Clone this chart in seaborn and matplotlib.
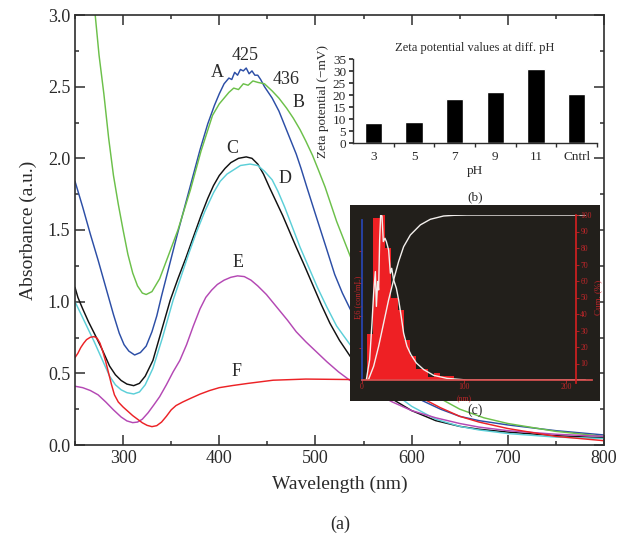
import numpy as np
import pandas as pd
import matplotlib
matplotlib.use("Agg")
import matplotlib.pyplot as plt
import seaborn as sns
from matplotlib.patches import Rectangle

# ---------------- data: main UV-vis spectra ----------------
wl_A = [250, 258, 266, 274, 282, 290, 296, 301, 306, 312, 318, 324, 330, 335, 340, 348, 356, 364, 372, 380, 388,
        395, 400, 405, 410, 413, 416, 419, 422, 425, 428, 431, 434, 437, 440, 443, 447, 455, 462, 468, 474, 480,
        485, 491, 500, 511, 520, 528, 536, 545, 555, 565, 575, 590, 611, 630, 650, 670, 700, 750, 800]
abs_A = [1.84, 1.66, 1.47, 1.29, 1.10, 0.91, 0.78, 0.70, 0.655, 0.628, 0.645, 0.69, 0.79, 0.90, 1.04, 1.25, 1.46,
         1.66, 1.86, 2.06, 2.24, 2.37, 2.45, 2.52, 2.56, 2.55, 2.60, 2.58, 2.62, 2.61, 2.63, 2.59, 2.61, 2.58,
         2.58, 2.55, 2.50, 2.42, 2.33, 2.23, 2.13, 2.03, 1.93, 1.80, 1.61, 1.38, 1.19, 1.06, 0.95, 0.83, 0.71,
         0.61, 0.53, 0.42, 0.31, 0.25, 0.20, 0.17, 0.14, 0.10, 0.07]

wl_B = [271, 275, 280, 285, 290, 295, 300, 305, 310, 315, 320, 324, 330, 338, 347, 357, 370, 381, 393, 400, 405,
        410, 415, 420, 425, 430, 435, 440, 447, 455, 462, 470, 477, 484, 490, 497, 503, 510, 516, 522, 529, 536,
        550, 565, 580, 600, 620, 650, 675, 700, 750, 800]
abs_B = [3.0, 2.72, 2.45, 2.14, 1.88, 1.68, 1.50, 1.33, 1.20, 1.11, 1.06, 1.05, 1.07, 1.16, 1.32, 1.50, 1.78,
         2.05, 2.30, 2.38, 2.42, 2.46, 2.49, 2.48, 2.52, 2.51, 2.54, 2.53, 2.52, 2.47, 2.42, 2.35, 2.28, 2.20,
         2.12, 2.02, 1.92, 1.80, 1.68, 1.56, 1.44, 1.32, 1.08, 0.85, 0.66, 0.48, 0.36, 0.25, 0.19, 0.15, 0.095,
         0.06]

wl_C = [250, 253, 258, 264, 270, 278, 286, 292, 298, 304, 311, 317, 323, 331, 340, 349, 357, 365, 373, 381, 388,
        394, 400, 406, 412, 420, 428, 434, 440, 446, 452, 459, 466, 473, 480, 488, 497, 506, 515, 525, 536, 548,
        560, 580, 600, 625, 650, 670, 700, 750, 800]
abs_C = [1.10, 1.03, 0.95, 0.86, 0.78, 0.67, 0.55, 0.49, 0.45, 0.425, 0.414, 0.43, 0.48, 0.59, 0.80, 1.01, 1.16,
         1.30, 1.45, 1.60, 1.72, 1.81, 1.88, 1.93, 1.97, 2.00, 2.01, 2.00, 1.96, 1.89, 1.80, 1.70, 1.60, 1.49,
         1.38, 1.26, 1.12, 0.98, 0.85, 0.73, 0.62, 0.52, 0.44, 0.32, 0.24, 0.17, 0.13, 0.11, 0.09, 0.065, 0.05]

wl_D = [250, 255, 260, 265, 270, 278, 286, 292, 298, 304, 311, 317, 323, 331, 341, 352, 360, 368, 376, 385, 394,
        401, 408, 415, 422, 432, 440, 447, 455, 461, 468, 476, 484, 493, 502, 512, 522, 536, 548, 560, 580, 600,
        625, 650, 670, 700, 750, 800]
abs_D = [1.00, 0.93, 0.86, 0.79, 0.72, 0.60, 0.48, 0.42, 0.385, 0.365, 0.356, 0.37, 0.42, 0.535, 0.75, 1.01, 1.17,
         1.33, 1.48, 1.63, 1.76, 1.84, 1.89, 1.92, 1.95, 1.96, 1.95, 1.91, 1.85, 1.77, 1.66, 1.52, 1.38, 1.24,
         1.10, 0.96, 0.83, 0.70, 0.59, 0.50, 0.37, 0.27, 0.18, 0.13, 0.105, 0.08, 0.055, 0.045]

wl_E = [250, 258, 266, 274, 282, 290, 298, 304, 310, 315, 320, 326, 332, 338, 345, 352, 359, 366, 373, 380, 386,
        392, 398, 405, 412, 419, 426, 433, 440, 449, 460, 471, 480, 490, 501, 512, 524, 536, 548, 560, 580, 600,
        625, 650, 670, 700, 750, 800]
abs_E = [0.41, 0.40, 0.38, 0.35, 0.30, 0.245, 0.195, 0.168, 0.156, 0.16, 0.18, 0.225, 0.28, 0.337, 0.42, 0.51,
         0.59, 0.70, 0.83, 0.95, 1.03, 1.08, 1.12, 1.15, 1.17, 1.18, 1.175, 1.15, 1.11, 1.05, 0.96, 0.87, 0.79,
         0.72, 0.65, 0.58, 0.51, 0.45, 0.41, 0.37, 0.30, 0.24, 0.19, 0.15, 0.125, 0.10, 0.075, 0.06]

wl_F = [250, 253, 256, 259, 262, 266, 270, 273, 276, 279, 282, 285, 288, 291, 295, 300, 305, 310, 315, 320, 325,
        330, 335, 340, 345, 350, 355, 362, 370, 380, 390, 400, 414, 430, 456, 490, 532, 550, 570, 590, 610, 630,
        650, 670, 700, 750, 800]
abs_F = [0.61, 0.64, 0.68, 0.71, 0.735, 0.752, 0.756, 0.745, 0.71, 0.65, 0.58, 0.50, 0.42, 0.35, 0.30, 0.265,
         0.235, 0.205, 0.18, 0.155, 0.137, 0.128, 0.135, 0.16, 0.20, 0.245, 0.275, 0.30, 0.325, 0.355, 0.38, 0.40,
         0.415, 0.43, 0.452, 0.46, 0.457, 0.455, 0.44, 0.40, 0.33, 0.26, 0.20, 0.16, 0.115, 0.06, 0.03]

sample_names = ["A", "B", "C", "D", "E", "F"]
sample_colors = {"A": "#2c4ea6", "B": "#6cc04a", "C": "#111111", "D": "#5ccfd8", "E": "#b448b4", "F": "#ec2226"}

# curve labels (text, wavelength, absorbance)
label_text = ["A", "425", "436", "B", "C", "D", "E", "F"]
label_wl = [397.5, 426.5, 470, 482.6, 414, 468, 420, 418]
label_abs = [2.60, 2.72, 2.55, 2.39, 2.07, 1.86, 1.27, 0.51]

# ---------------- data: inset (b) zeta potential ----------------
ph_labels = ["3", "5", "7", "9", "11", "Cntrl"]
zeta_values = [8.2, 8.6, 18.2, 21.1, 30.8, 20.3]

# ---------------- data: inset (c) size distribution ----------------
hist_edges = [4.9, 10.8, 18.6, 22.9, 28.4, 35.0, 40.8, 47.4, 53.3, 65.0, 71.0, 76.8, 90.0]
hist_heights = [28, 98, 100, 80, 50, 42.5, 24.4, 14.3, 6.9, 2.0, 4.2, 2.6]
freq_nm = [4.2, 7.5, 9.8, 11.4, 13.1, 14.1, 15.4, 16.3, 17.3, 18.3, 19.6, 20.9, 22.5, 23.9, 26.1, 27.8, 29.1,
           31.0, 33.7, 35.9, 38.2, 40.8, 44.1, 48.0, 53.3, 60.5, 70.3, 83.3, 103, 219]
freq_pct = [0, 12.3, 34.5, 52.6, 65.7, 44.6, 59.7, 54.6, 84.9, 100, 99.4, 83.9, 85.9, 83.9, 78.8, 64.7, 67.7,
            60.7, 55.6, 48.6, 39.5, 28.4, 20.4, 15.3, 10.3, 6.3, 2.8, 1.0, 0, 0]
cum_nm = [5, 6.5, 11.4, 16.3, 21.2, 26.1, 31, 35.9, 40.8, 47.4, 57.2, 67, 80, 90, 103, 219]
cum_pct = [0, 0.5, 8.3, 20.4, 34.5, 48.6, 60.7, 71.8, 80.8, 87.9, 94, 97.4, 99.4, 99.8, 100, 100]

# ---------------- figure ----------------
sns.set_theme(style="ticks")
plt.rcParams["font.family"] = ["Liberation Serif", "DejaVu Serif"]

W, H = 621, 541
fig = plt.figure(figsize=(W / 100, H / 100), dpi=100)
fig.patch.set_facecolor("white")


def rect(l, t, r, b):
    return [l / W, 1 - b / H, (r - l) / W, (b - t) / H]


axis_col = "#2e2e2e"
text_col = "#2a2a2a"

ax = fig.add_axes(rect(75, 15, 604, 445))
wls = [wl_A, wl_B, wl_C, wl_D, wl_E, wl_F]
abss = [abs_A, abs_B, abs_C, abs_D, abs_E, abs_F]
frames = [pd.DataFrame({"wl": w, "abs": a, "sample": s}) for w, a, s in zip(wls, abss, sample_names)]
df = pd.concat(frames, ignore_index=True)
sns.lineplot(data=df, x="wl", y="abs", hue="sample", palette=sample_colors, estimator=None,
             legend=False, linewidth=1.05, ax=ax)
ax.set_xlim(250, 800)
ax.set_ylim(0, 3.0)
ax.set_xticks(range(300, 801, 100))
ax.set_xticks(range(250, 801, 50), minor=True)
ax.set_yticks(np.arange(0, 3.01, 0.5))
ax.set_yticks(np.arange(0, 3.01, 0.25), minor=True)
ax.set_yticklabels([f"{v:.1f}" for v in np.arange(0, 3.01, 0.5)])
ax.tick_params(which="both", direction="in", top=True, right=True, colors=axis_col, labelcolor=text_col,
               labelsize=13, width=1.1)
ax.tick_params(which="major", length=7)
ax.tick_params(which="minor", length=3)
for sp in ax.spines.values():
    sp.set_color(axis_col)
    sp.set_linewidth(1.2)
ax.set_xlabel("Wavelength (nm)", fontsize=14, color=text_col, labelpad=6)
ax.set_ylabel("Absorbance (a.u.)", fontsize=14, color=text_col, labelpad=8)
for t, x, y in zip(label_text, label_wl, label_abs):
    ax.text(x, y, t, ha="center", va="center", fontsize=13, color=text_col)
fig.text(340 / W, 1 - 524 / H, "(a)", ha="center", va="center", fontsize=13, color=text_col)

# ---------------- inset (b) ----------------
axb = fig.add_axes(rect(353, 59, 597, 143))
axb.set_zorder(6)
axb.patch.set_visible(False)
sns.barplot(x=ph_labels, y=zeta_values, color="black", width=0.43, saturation=1, ax=axb)
axb.set_xlim(-0.5, 5.5)
axb.set_ylim(0, 35)
axb.set_yticks(range(0, 36, 5))
axb.set_xticks(np.arange(0.5, 5.6, 1), minor=True)
axb.tick_params(axis="x", which="major", length=0, labelsize=9.5, pad=6, labelcolor=text_col)
axb.tick_params(axis="x", which="minor", length=3, direction="out", color=axis_col)
axb.tick_params(axis="y", length=3, direction="out", labelsize=9.5, pad=2, labelcolor=text_col, color=axis_col)
sns.despine(ax=axb)
for sp in ["left", "bottom"]:
    axb.spines[sp].set_color(axis_col)
    axb.spines[sp].set_linewidth(1.0)
axb.set_xlabel("pH", fontsize=9.5, color=text_col, labelpad=1)
axb.set_ylabel("Zeta potential (−mV)", fontsize=9.5, color=text_col, labelpad=3)
axb.set_title("Zeta potential values at diff. pH", fontsize=9, color=text_col, pad=6)
fig.text(475 / W, 1 - 197 / H, "(b)", ha="center", va="center", fontsize=9.5, color=text_col)

# ---------------- inset (c) ----------------
bg = Rectangle((350 / W, 1 - 401 / H), 250 / W, 196 / H, transform=fig.transFigure,
               facecolor="#221f1b", edgecolor="none", zorder=5)
fig.add_artist(bg)
red_txt = "#c0262a"
axc = fig.add_axes(rect(362, 215, 591.5, 380))
axc.set_zorder(6)
axc.patch.set_visible(False)
hist_centers = [(a + b) / 2 for a, b in zip(hist_edges[:-1], hist_edges[1:])]
sns.histplot(x=hist_centers, weights=hist_heights, bins=hist_edges, color="#ee2024", alpha=1,
             edgecolor="none", linewidth=0, ax=axc)
sns.lineplot(x=freq_nm, y=freq_pct, color="#f4f0ee", linewidth=1.0, estimator=None, sort=False, ax=axc)
sns.lineplot(x=cum_nm, y=cum_pct, color="#f4f0ee", linewidth=1.0, estimator=None, sort=False, ax=axc)
axc.set_xlim(0, 225)
axc.set_ylim(0, 100)
axc.set_xticks([0, 100, 200])
axc.set_yticks([19.5, 39, 58.5, 78])
axc.tick_params(axis="x", length=2, width=0.6, color=red_txt, labelcolor=red_txt, labelsize=5.5, pad=0.5)
axc.tick_params(axis="y", length=2, width=0.6, color=red_txt, labelleft=False)
axc.spines["top"].set_visible(False)
axc.spines["right"].set_visible(False)
axc.spines["left"].set_color("#2846b4")
axc.spines["left"].set_bounds(0, 97)
axc.spines["bottom"].set_color("#d85050")
axc.set_xlabel("")
axc.set_ylabel("")
axc.text(100, -11.5, "(nm)", ha="center", va="center", fontsize=5.5, color=red_txt)
axc.text(-4, 50, "E6 (con/mL)", rotation=90, ha="center", va="center", fontsize=6, color=red_txt)

axr = axc.twinx()
axr.set_zorder(7)
axr.set_ylim(0, 100)
axr.spines["right"].set_position(("data", 210))
axr.spines["right"].set_color("#d02020")
axr.spines["right"].set_bounds(-2, 100)
for sp in ["top", "left", "bottom"]:
    axr.spines[sp].set_visible(False)
axr.set_yticks(range(10, 101, 10))
axr.tick_params(axis="y", length=2, width=0.6, color=red_txt, labelcolor=red_txt, labelsize=5.5, pad=1)
axr.set_ylabel("Cum. (%)", fontsize=6.5, color=red_txt, labelpad=2)
fig.text(475 / W, 1 - 410 / H, "(c)", ha="center", va="center", fontsize=10, color=text_col, zorder=8)

fig.savefig("out.png", dpi=100)
